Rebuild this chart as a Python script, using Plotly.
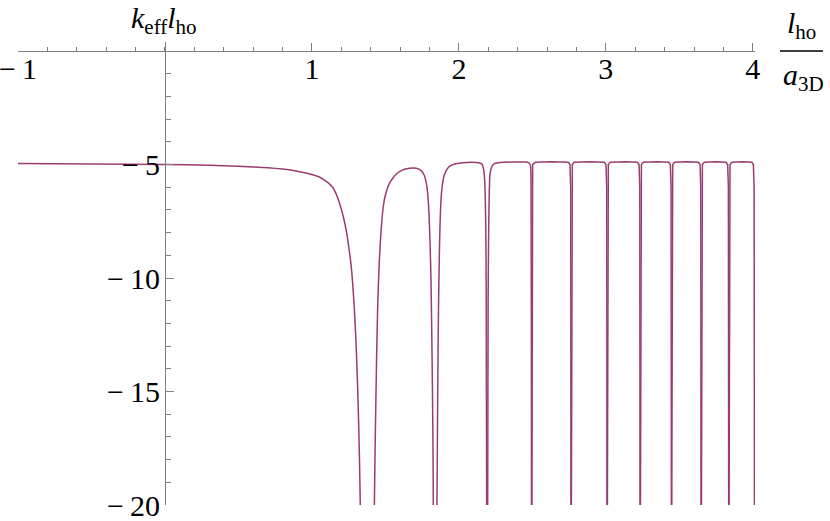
import plotly.graph_objects as go

# ---- data: x = l_ho / a_3D, y = k_eff * l_ho ----
# smooth branches (None separates branches that run off below -20)
x_smooth = [
    -1.0, -0.5, 0.0, 0.3, 0.5, 0.7, 0.8, 0.9, 0.95, 1.0, 1.05, 1.1, 1.14, 1.164, 1.19,
    1.21, 1.232, 1.25, 1.266, 1.278, 1.289, 1.297, 1.304, 1.311, 1.318, 1.324, 1.329, 1.333,
    None,
    1.421, 1.425, 1.430, 1.436, 1.441, 1.447, 1.453, 1.459, 1.465, 1.472, 1.481, 1.49, 1.50,
    1.515, 1.53, 1.55, 1.573, 1.60, 1.63, 1.663, 1.695, 1.720, 1.745, 1.765, 1.778, 1.788,
    1.797, 1.804, 1.810, 1.815, 1.820, 1.824, 1.826, 1.829,
    None,
    1.848, 1.851, 1.856, 1.861, 1.867, 1.872, 1.879, 1.89, 1.901, 1.925, 1.947, 1.98, 2.026,
    2.117, 2.145, 2.158, 2.168, 2.174, 2.179, 2.183, 2.186, 2.189, 2.191,
    None,
    2.194, 2.196, 2.199, 2.203, 2.207, 2.212, 2.225, 2.242, 2.3, 2.366, 2.45, 2.469, 2.482,
    2.487, 2.491, 2.494, 2.4955,
]
k_smooth = [
    -4.95, -4.97, -5.00, -5.03, -5.07, -5.14, -5.20, -5.29, -5.36, -5.44, -5.55, -5.75, -5.99, -6.28, -6.75,
    -7.2, -7.85, -8.6, -9.4, -10.3, -11.4, -12.4, -13.5, -14.8, -16.4, -18.1, -20.0, -21.5,
    None,
    -21.5, -20.0, -17.5, -15.1, -13.2, -11.4, -10.2, -9.2, -8.5, -7.8, -7.1, -6.65, -6.35,
    -6.02, -5.8, -5.6, -5.43, -5.3, -5.21, -5.16, -5.15, -5.18, -5.28, -5.48, -5.8, -6.28,
    -7.2, -8.48, -10.0, -12.16, -14.8, -17.5, -20.0, -21.5,
    None,
    -21.5, -20.0, -15.0, -11.5, -9.0, -7.6, -6.5, -5.8, -5.45, -5.15, -5.04, -4.96, -4.92,
    -4.91, -4.94, -4.99, -5.2, -5.55, -6.3, -7.75, -10.5, -20.0, -21.5,
    None,
    -21.5, -20.0, -11.0, -7.75, -6.2, -5.40, -5.08, -4.96, -4.90, -4.89, -4.89, -4.90, -4.97,
    -5.04, -5.6, -20.0, -21.5,
]

# very narrow resonances (the curve is a near-vertical line there)
x_narrow = [
    2.4965, 2.498, 2.502, 2.52, 2.63, 2.745, 2.756, 2.761, 2.763, None,
    2.765, 2.767, 2.772, 2.785, 2.89, 2.99, 3.001, 3.006, 3.008, None,
    3.010, 3.012, 3.017, 3.03, 3.13, 3.215, 3.226, 3.231, 3.233, None,
    3.235, 3.237, 3.242, 3.255, 3.35, 3.428, 3.439, 3.444, 3.446, None,
    3.448, 3.450, 3.455, 3.468, 3.55, 3.630, 3.641, 3.646, 3.648, None,
    3.650, 3.652, 3.657, 3.670, 3.75, 3.818, 3.829, 3.834, 3.836, None,
    3.838, 3.840, 3.845, 3.858, 3.93, 3.993, 4.004, 4.009, 4.0115,
]
k_narrow = [
    -21.5, -6.0, -5.0, -4.9, -4.88, -4.9, -5.0, -6.0, -21.5, None,
    -21.5, -6.0, -5.0, -4.9, -4.88, -4.9, -5.0, -6.0, -21.5, None,
    -21.5, -6.0, -5.0, -4.9, -4.88, -4.9, -5.0, -6.0, -21.5, None,
    -21.5, -6.0, -5.0, -4.9, -4.88, -4.9, -5.0, -6.0, -21.5, None,
    -21.5, -6.0, -5.0, -4.9, -4.88, -4.9, -5.0, -6.0, -21.5, None,
    -21.5, -6.0, -5.0, -4.9, -4.88, -4.9, -5.0, -6.0, -21.5, None,
    -21.5, -6.0, -5.0, -4.9, -4.88, -4.9, -5.0, -6.0, -21.5,
]

x_tickvals = [-1, 1, 2, 3, 4]
x_ticktext = ["\u2212\u20091", "1", "2", "3", "4"]
y_tickvals = [-5, -10, -15, -20]
y_ticktext = ["\u2212\u20095", "\u2212\u200910", "\u2212\u200915", "\u2212\u200920"]

X_RANGE = [-1.0, 4.015]
Y_RANGE = [-20.0, 0.4]

CURVE = "#993D71"
AXIS = "#808080"
FONT = "Liberation Serif"
FS = 30

fig = go.Figure()
fig.add_trace(go.Scatter(x=x_smooth, y=k_smooth, mode="lines",
                         line=dict(color=CURVE, width=1.5, shape="spline", smoothing=0.5),
                         connectgaps=False, showlegend=False, hoverinfo="skip"))
fig.add_trace(go.Scatter(x=x_narrow, y=k_narrow, mode="lines",
                         line=dict(color=CURVE, width=1.5),
                         connectgaps=False, showlegend=False, hoverinfo="skip"))

x_pos = (0 - Y_RANGE[0]) / (Y_RANGE[1] - Y_RANGE[0])
y_pos = (0 - X_RANGE[0]) / (X_RANGE[1] - X_RANGE[0])

fig.update_layout(
    width=830, height=521,
    margin=dict(l=18, r=75, t=42, b=16, pad=0, autoexpand=False),
    paper_bgcolor="white", plot_bgcolor="white",
    font=dict(family=FONT, size=FS, color="black"),
    xaxis=dict(range=X_RANGE, anchor="free", position=x_pos, side="bottom",
               automargin=False, ticklabeloverflow="allow",
               showline=True, linecolor=AXIS, linewidth=1,
               showgrid=False, zeroline=False,
               tickmode="array", tickvals=x_tickvals, ticktext=x_ticktext,
               ticks="inside", ticklen=8, tickcolor=AXIS, tickwidth=1,
               ticklabelstandoff=-9,
               tickfont=dict(family=FONT, size=FS, color="black"),
               minor=dict(tick0=0, dtick=0.2, ticks="inside", ticklen=4,
                          tickcolor=AXIS, tickwidth=1, showgrid=False)),
    yaxis=dict(range=Y_RANGE, anchor="free", position=y_pos, side="left",
               automargin=False, ticklabeloverflow="allow",
               showline=True, linecolor=AXIS, linewidth=1,
               showgrid=False, zeroline=False,
               tickmode="array", tickvals=y_tickvals, ticktext=y_ticktext,
               ticks="inside", ticklen=8, tickcolor=AXIS, tickwidth=1,
               ticklabelstandoff=-1,
               tickfont=dict(family=FONT, size=FS, color="black"),
               minor=dict(tick0=0, dtick=1, ticks="inside", ticklen=5,
                          tickcolor=AXIS, tickwidth=1, showgrid=False)),
)

# axis labels
fig.add_annotation(xref="paper", yref="paper", x=(164 - 18) / 737, y=(505 - 20) / 463,
                   text="<i>k</i><sub>eff</sub><i>l</i><sub>ho</sub>", showarrow=False,
                   xanchor="center", yanchor="middle",
                   font=dict(family=FONT, size=FS, color="black"))
fig.add_annotation(xref="paper", yref="paper", x=(801 - 18) / 737, y=(505 - 25) / 463,
                   text="<i>l</i><sub>ho</sub>", showarrow=False,
                   xanchor="center", yanchor="middle",
                   font=dict(family=FONT, size=FS, color="black"))
fig.add_annotation(xref="paper", yref="paper", x=(803 - 18) / 737, y=(505 - 77) / 463,
                   text="<i>a</i><sub>3D</sub>", showarrow=False,
                   xanchor="center", yanchor="middle",
                   font=dict(family=FONT, size=FS, color="black"))
fig.add_shape(type="line", xref="paper", yref="y", x0=(780 - 18) / 737, x1=(823 - 18) / 737,
              y0=0, y1=0, line=dict(color="black", width=1.5))

fig.write_html("out.html", config={"displayModeBar": False},
               post_script="document.body.style.margin='0';")
